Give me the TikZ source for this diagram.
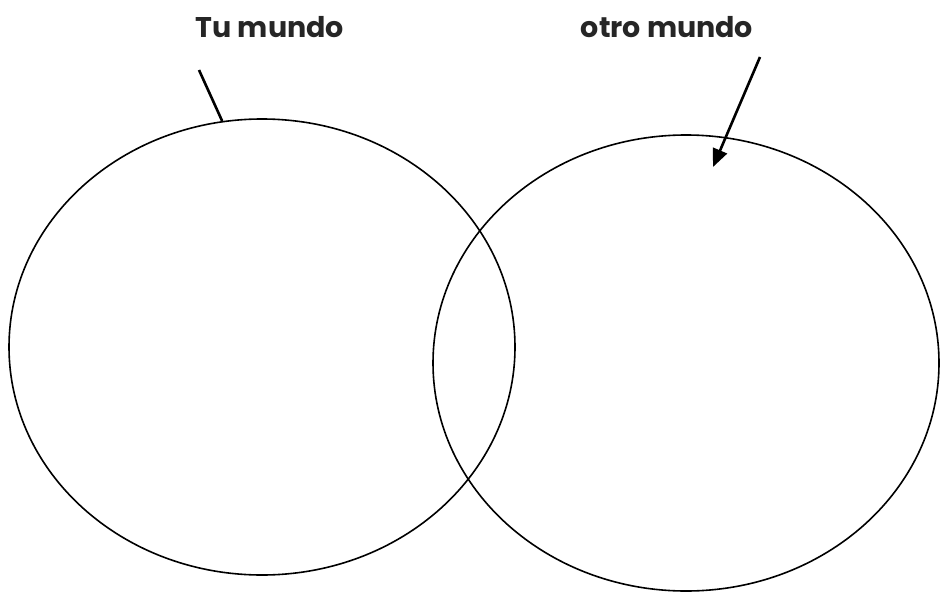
\documentclass[tikz,border=0pt]{standalone}
\usepackage{fontspec}
\setmainfont{Poppins}
\usetikzlibrary{positioning,shapes.geometric,arrows.meta}

\begin{document}
\begin{tikzpicture}[x=1pt,y=-1pt,
    world/.style={ellipse, draw, line width=1.6pt,
        minimum width=506pt, minimum height=456pt},
    label/.style={font=\fontsize{28.5}{32}\selectfont\bfseries, text=black!85},
    pointer/.style={line width=2.6pt}
    ]
    \useasboundingbox (0,0) rectangle (942,594);
    \node[world] (tu) at (262,347) {};
    \node[world] (otro) at (686,363) {};
    \node[label] (tulabel) at (270,27) {Tu mundo};
    \node[label] (otrolabel) at (667,27) {otro mundo};
    \coordinate (tufrom) at (199,70);
    \coordinate (otrofrom) at (760,57);
    \coordinate (otroto) at (713,167);
    \draw[pointer] (tufrom) -- (tu.100.8);
    \draw[pointer,-{Triangle[length=18pt,width=15pt]}] (otrofrom) -- (otroto);
\end{tikzpicture}
\end{document}
